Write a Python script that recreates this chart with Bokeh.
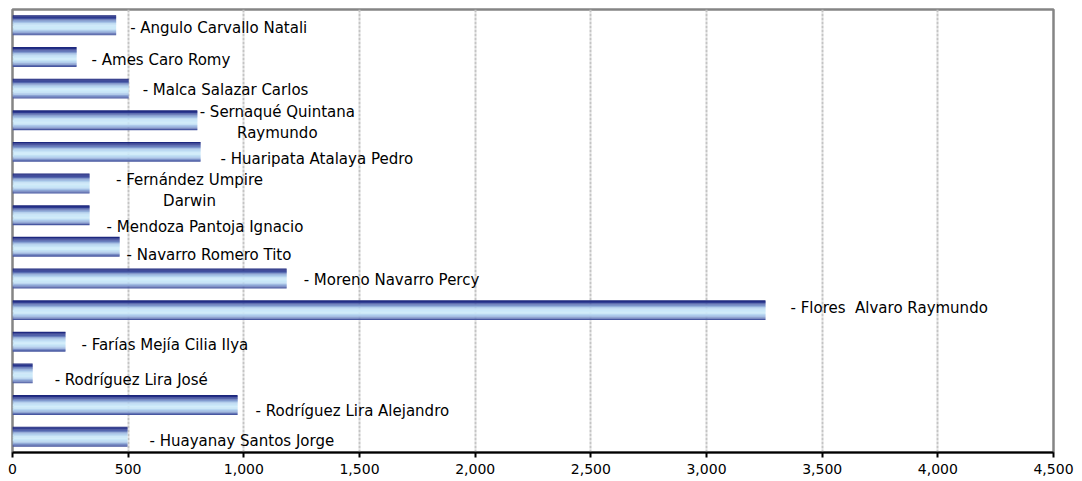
from bokeh.plotting import figure
from bokeh.models import ColumnDataSource, Range1d, FixedTicker, NumeralTickFormatter
from bokeh.embed import file_html
from bokeh.resources import INLINE
from bokeh.core.properties import value

# ---- data ----
names = ["Angulo Carvallo Natali", "Ames Caro Romy", "Malca Salazar Carlos",
         "Sernaqué Quintana\nRaymundo", "Huaripata Atalaya Pedro",
         "Fernández Umpire\nDarwin", "Mendoza Pantoja Ignacio",
         "Navarro Romero Tito", "Moreno Navarro Percy", "Flores\u00a0 Alvaro Raymundo",
         "Farías Mejía Cilia Ilya", "Rodríguez Lira José",
         "Rodríguez Lira Alejandro", "Huayanay Santos Jorge"]
values = [448, 277, 502, 799, 813, 333, 333, 463, 1185, 3255, 229, 87, 973, 497]
x_ticks = [0, 500, 1000, 1500, 2000, 2500, 3000, 3500, 4000, 4500]

# ---- label placement (screen-pixel offsets from bar end / slot centre) ----
label_dx = [14, 15, 14, -2, 20, 23, 17, 7, 17, 25, 16, 22, 18, 22]
label_dy = [3, 3, 1, 2, 7, 7, 12, 8, 2, -2, 3, 7, 6, 4]
center_dx = {3: 80, 5: 100}   # two-line labels are centred

# ---- style ----
bar_h = 0.62
n_strips = 24
stops = [(0.00, (0x1A, 0x24, 0x78)), (0.10, (0x26, 0x33, 0x8A)),
         (0.20, (0x55, 0x68, 0xAE)), (0.30, (0x8C, 0xA6, 0xD6)),
         (0.40, (0xB4, 0xD2, 0xEE)), (0.50, (0xC9, 0xE6, 0xF8)),
         (0.62, (0xCE, 0xEC, 0xFA)), (0.72, (0xC0, 0xDE, 0xF4)),
         (0.82, (0xA2, 0xBE, 0xE4)), (0.90, (0x7C, 0x92, 0xC8)),
         (0.96, (0x55, 0x66, 0xAC)), (1.00, (0x3A, 0x48, 0x96))]


def grad(t):
    for (t0, c0), (t1, c1) in zip(stops[:-1], stops[1:]):
        if t0 <= t <= t1:
            f = (t - t0) / (t1 - t0) if t1 > t0 else 0
            c = [round(a + (b - a) * f) for a, b in zip(c0, c1)]
            return "#%02x%02x%02x" % tuple(c)
    return "#%02x%02x%02x" % stops[-1][1]


n = len(names)
p = figure(frame_width=1041, frame_height=443, output_backend="svg",
           toolbar_location=None, x_range=Range1d(0, 4500),
           y_range=Range1d(n - 0.5, -0.5),
           min_border_left=12, min_border_top=9, min_border_right=21,
           min_border_bottom=4, background_fill_color="white",
           border_fill_color="white")

# gradient bars built from thin strips
ys, rs, cs = [], [], []
sh = bar_h / n_strips
for i, v in enumerate(values):
    for k in range(n_strips):
        ys.append(i - bar_h / 2 + (k + 0.5) * sh)
        rs.append(v)
        cs.append(grad((k + 0.5) / n_strips))
src = ColumnDataSource(dict(y=ys, right=rs, color=cs))
p.hbar(y="y", right="right", left=0, height=sh * 1.35, fill_color="color",
       line_color=None, source=src)

# labels
single = dict(x=[], y=[], text=[], dx=[], dy=[])
multi = dict(x=[], y=[], text=[], dx=[], dy=[])
for i, (nm, v) in enumerate(zip(names, values)):
    d = multi if i in center_dx else single
    d["x"].append(v)
    d["y"].append(i)
    d["text"].append("- " + nm)
    d["dx"].append(center_dx.get(i, label_dx[i]))
    d["dy"].append(label_dy[i])

p.text(x="x", y="y", text="text", x_offset="dx", y_offset="dy",
       source=ColumnDataSource(single), text_align="left",
       text_baseline="middle", text_font=value("DejaVu Sans"),
       text_font_size="15px", text_color="#000000")
p.text(x="x", y="y", text="text", x_offset="dx", y_offset="dy",
       source=ColumnDataSource(multi), text_align="center",
       text_baseline="middle", text_font=value("DejaVu Sans"),
       text_font_size="15px", text_color="#000000", text_line_height=1.15)

# axes / grid
p.yaxis.visible = False
p.ygrid.visible = False
ax = p.xaxis[0]
ax.ticker = FixedTicker(ticks=x_ticks)
ax.formatter = NumeralTickFormatter(format="0,0")
ax.axis_line_color = "black"
ax.axis_line_width = 2
ax.major_tick_line_color = "black"
ax.major_tick_line_width = 2
ax.major_tick_in = 0
ax.major_tick_out = 5
ax.minor_tick_in = 0
ax.minor_tick_out = 0
ax.major_label_standoff = 6
ax.major_label_text_font = "DejaVu Sans"
ax.major_label_text_font_size = "14px"
ax.major_label_text_color = "black"

p.xgrid.ticker = FixedTicker(ticks=x_ticks)
p.xgrid.grid_line_color = "#C4C4C4"
p.xgrid.grid_line_width = 2
p.xgrid.grid_line_dash = "3 1"

p.outline_line_color = "#858585"
p.outline_line_width = 2.5

open("out.html", "w").write(file_html(p, INLINE))
